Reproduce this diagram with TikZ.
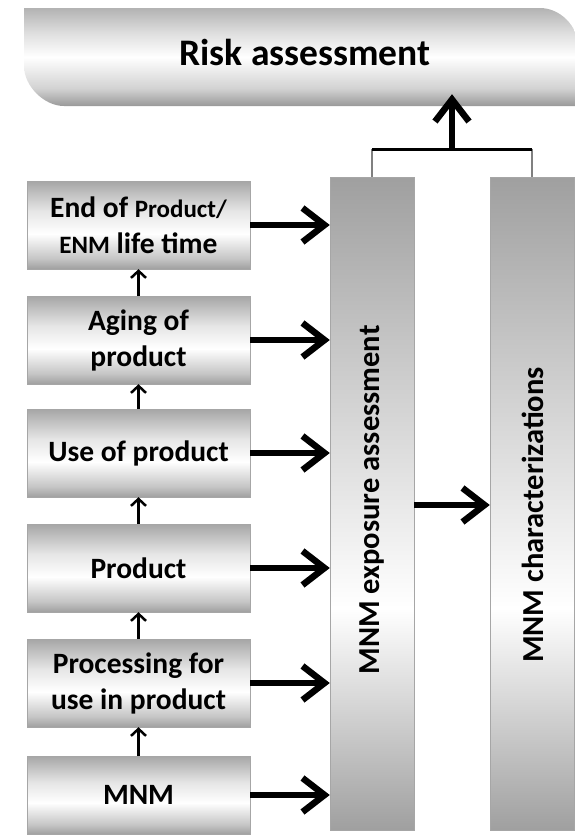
\documentclass[tikz,border=0pt]{standalone}
\usepackage{fontspec}
\setmainfont{Carlito}
\usepackage{tikz}
\usetikzlibrary{arrows.meta}
\pgfdeclareverticalshading{stageshade}{100bp}{color(0bp)=(gray!75); color(25bp)=(gray!75); color(31bp)=(gray!45); color(45bp)=(white); color(58bp)=(gray!20); color(70bp)=(gray!55); color(75bp)=(gray!70); color(100bp)=(gray!70)}
\pgfdeclareverticalshading{tallshade}{100bp}{color(0bp)=(gray!75); color(25bp)=(gray!75); color(42bp)=(white); color(60bp)=(gray!40); color(75bp)=(gray!75); color(100bp)=(gray!75)}
\pgfdeclareverticalshading{bannershade}{100bp}{color(0bp)=(gray!80); color(25bp)=(gray!80); color(34bp)=(gray!35); color(50bp)=(white); color(62bp)=(gray!25); color(75bp)=(gray!60); color(100bp)=(gray!60)}

\begin{document}
\begin{tikzpicture}[x=1pt,y=-1pt,
	stage/.style={shading=stageshade, draw=gray!70, minimum width=223pt, minimum height=88pt, align=center, font=\fontsize{29.5}{36}\selectfont\bfseries},
	tall/.style={shading=tallshade, draw=gray!70, minimum width=84pt, minimum height=653pt},
	talltext/.style={rotate=90, font=\fontsize{30.5}{34}\selectfont\bfseries},
	big/.style={line width=6.5pt, -{Straight Barb[length=22pt,width=34pt,line width=6.5pt]}},
	small/.style={line width=2.5pt, -{Straight Barb[length=7pt,width=15pt,line width=2.5pt]}}]
	 \useasboundingbox (0,0) rectangle (574,835);
	 \shade[shading=bannershade] (24,8) -- (540,8) .. controls (560,8) and (578,26) .. (578,46) -- (600,46) -- (600,106) -- (64,106) .. controls (44,106) and (24,86) .. (24,66) -- cycle;
	 \node[font=\fontsize{37.5}{40}\selectfont\bfseries, minimum height=84pt] (risk) at (305,52) {Risk assessment};
	 \node[stage] (eol) at (138.5,225) {End of {\fontsize{25}{36}\selectfont Product/}\\{\fontsize{25}{36}\selectfont ENM} life time};
	 \node[stage] (aging) at (138.5,340) {Aging of\\product};
	 \node[stage] (use) at (138.5,453) {Use of product};
	 \node[stage] (product) at (138.5,568) {Product};
	 \node[stage] (proc) at (138.5,683) {Processing for\\use in product};
	 \node[stage, minimum height=78pt] (mnm) at (138.5,795) {MNM};
	 \node[tall] (expo) at (372,503.5) {};
	 \node[tall] (char) at (532,503.5) {};
	 \node[talltext] (expolabel) at (372,500) {MNM exposure assessment};
	 \node[talltext] (charlabel) at (533,515) {MNM characterizations};
	 \draw[small] (mnm) -- (proc);
	 \draw[small] (proc) -- (product);
	 \draw[small] (product) -- (use);
	 \draw[small] (use) -- (aging);
	 \draw[small] (aging) -- (eol);
	 \foreach \s in {eol,aging,use,product,proc,mnm}
	 	\draw[big] (\s.east) -- (\s.east -| expo.west);
	 \draw[big] (expo.east |- 0,505) -- (char.west |- 0,505);
	 \coordinate (join) at (452,149);
	 \draw[gray, line width=1.5pt] (expo.north) -- (expo.north |- join);
	 \draw[gray, line width=1.5pt] (char.north) -- (char.north |- join);
	 \draw[line width=3pt] (expo.north |- join) -- (char.north |- join);
	 \draw[big] (join) -- (join |- risk.south);
\end{tikzpicture}
\end{document}
